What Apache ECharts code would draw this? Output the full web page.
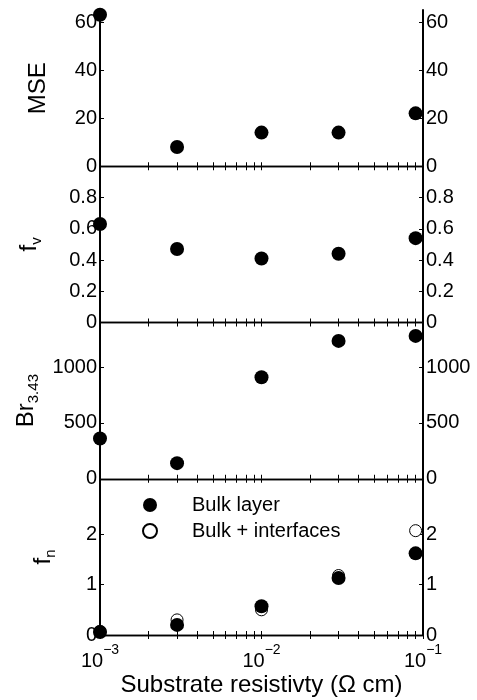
<!DOCTYPE html>
<html>
<head>
<meta charset="utf-8">
<script src="https://cdn.jsdelivr.net/npm/echarts@6/dist/echarts.min.js"></script>
<style>
  html, body { margin: 0; padding: 0; background: #fff; }
  #chart { width: 477px; height: 700px; }
</style>
</head>
<body>
<div id="chart"></div>
<script>
// substrate resistivity (ohm cm)
var resistivity = [0.001, 0.003, 0.01, 0.03, 0.09];
var mseVals = [63, 8, 14, 14, 22];
var fvVals = [0.63, 0.47, 0.41, 0.44, 0.54];
var brVals = [360, 140, 910, 1235, 1280];
var fnBulk = [0.06, 0.2, 0.57, 1.13, 1.62];
var fnInterfaces = [0.07, 0.3, 0.5, 1.18, 2.07];

var xTickVals = [0.001, 0.002, 0.003, 0.004, 0.005, 0.006, 0.007, 0.008, 0.009,
  0.01, 0.02, 0.03, 0.04, 0.05, 0.06, 0.07, 0.08, 0.09, 0.1];
var xLabelVals = [0.001, 0.01, 0.1];

var mseTicks = [0, 20, 40, 60];
var fvTicks = [0, 0.2, 0.4, 0.6, 0.8];
var brTicks = [0, 500, 1000];
var fnTicks = [0, 1, 2];

var font = 'Liberation Sans, Arial, sans-serif';
var chart = echarts.init(document.getElementById('chart'));

var tops = [10, 166.25, 322.5, 478.75];
var panelH = 156.25;

var grids = tops.map(function (t) {
  return { left: 100, width: 323, top: t, height: panelH, outerBoundsMode: 'none', containLabel: false };
});

function pair(xs, ys) {
  return xs.map(function (x, i) { return [x, ys[i]]; });
}

function xAxisFor(gi, pos, showLabels) {
  return {
    type: 'log', logBase: 10, gridIndex: gi, position: pos,
    min: 0.001, max: 0.1,
    axisLine: { show: true, lineStyle: { color: '#000', width: 1.3 } },
    axisTick: { show: true, inside: true, length: 4, customValues: xTickVals,
      lineStyle: { color: '#000', width: 1 } },
    splitLine: { show: false },
    axisLabel: {
      show: showLabels, customValues: xLabelVals, margin: 8, color: '#000',
      formatter: function (v) {
        var e = Math.round(Math.log(v) / Math.LN10);
        return '{b|10}{e|\u2212' + (-e) + '}';
      },
      rich: {
        b: { fontSize: 20, fontFamily: font, color: '#000', lineHeight: 28, verticalAlign: 'bottom' },
        e: { fontSize: 14, fontFamily: font, color: '#000', lineHeight: 28, verticalAlign: 'top' }
      }
    },
    name: showLabels ? 'Substrate resistivty (\u03a9 cm)' : '',
    nameLocation: 'middle', nameGap: 38,
    nameTextStyle: { fontSize: 24, fontFamily: font, color: '#000' }
  };
}

function yAxisFor(gi, pos, max, ticks, name, nameGap) {
  return {
    type: 'value', gridIndex: gi, position: pos, min: 0, max: max,
    axisLine: { show: true, onZero: false, lineStyle: { color: '#000', width: 2 } },
    axisTick: { show: true, inside: true, length: 4, customValues: ticks,
      lineStyle: { color: '#000', width: 1 } },
    splitLine: { show: false },
    axisLabel: {
      customValues: ticks, margin: 3, fontSize: 20, fontFamily: font, color: '#000',
      formatter: function (v) { return String(v); }
    },
    name: pos === 'left' ? name : '',
    nameLocation: 'middle', nameRotate: 90, nameGap: nameGap,
    nameTextStyle: {
      fontSize: 24, fontFamily: font, color: '#000',
      rich: {
        a: { fontSize: 24, fontFamily: font, color: '#000', lineHeight: 27, verticalAlign: 'top' },
        s: { fontSize: 15, fontFamily: font, color: '#000', lineHeight: 27, verticalAlign: 'bottom' }
      }
    }
  };
}

var xAxes = [];
var yAxes = [];
for (var i = 0; i < 4; i++) {
  xAxes.push(xAxisFor(i, 'bottom', i === 3));
  xAxes.push(xAxisFor(i, 'top', false));
}
yAxes.push(yAxisFor(0, 'left', 65, mseTicks, 'MSE', 50));
yAxes.push(yAxisFor(0, 'right', 65, mseTicks, '', 0));
yAxes.push(yAxisFor(1, 'left', 1, fvTicks, '{a|f}{s|v}', 56));
yAxes.push(yAxisFor(1, 'right', 1, fvTicks, '', 0));
yAxes.push(yAxisFor(2, 'left', 1400, brTicks, '{a|Br}{s|3.43}', 56));
yAxes.push(yAxisFor(2, 'right', 1400, brTicks, '', 0));
yAxes.push(yAxisFor(3, 'left', 3.1, fnTicks, '{a|f}{s|n}', 42));
yAxes.push(yAxisFor(3, 'right', 3.1, fnTicks, '', 0));

function dots(name, xi, yi, vals) {
  return {
    name: name, type: 'scatter', xAxisIndex: xi, yAxisIndex: yi,
    data: pair(resistivity, vals), symbol: 'circle', symbolSize: 14, clip: false,
    itemStyle: { color: '#000', opacity: 1 }
  };
}

var option = {
  backgroundColor: '#fff',
  animation: false,
  grid: grids,
  xAxis: xAxes,
  yAxis: yAxes,
  legend: {
    orient: 'vertical', left: 137, top: 490, itemGap: 6,
    itemWidth: 14, itemHeight: 14,
    data: ['Bulk layer', 'Bulk + interfaces'],
    textStyle: { fontSize: 20, fontFamily: font, color: '#000', padding: [0, 0, 0, 30] }
  },
  series: [
    dots('mse', 0, 0, mseVals),
    dots('fv', 2, 2, fvVals),
    dots('br', 4, 4, brVals),
    {
      name: 'Bulk + interfaces', type: 'scatter', xAxisIndex: 6, yAxisIndex: 6,
      data: pair(resistivity, fnInterfaces), symbol: 'circle', symbolSize: 12, clip: false,
      itemStyle: { color: '#fff', borderColor: '#000', borderWidth: 1, opacity: 1 }
    },
    dots('Bulk layer', 6, 6, fnBulk)
  ]
};
chart.setOption(option);
</script>
</body>
</html>
